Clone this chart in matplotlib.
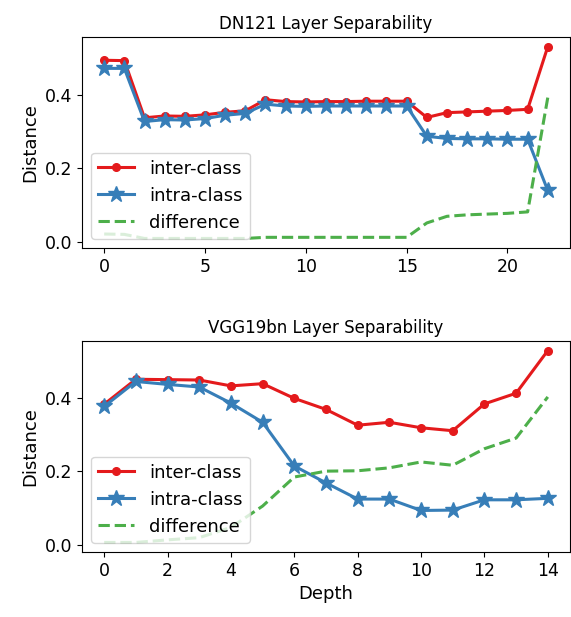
import matplotlib
matplotlib.use('Agg')
import matplotlib.pyplot as plt

# DN121 layer separability
dn_depth = list(range(23))
dn_inter = [0.493, 0.492, 0.337, 0.342, 0.341, 0.345, 0.352, 0.356, 0.386, 0.381, 0.380, 0.381,
            0.381, 0.382, 0.382, 0.382, 0.338, 0.351, 0.353, 0.355, 0.357, 0.360, 0.530]
dn_intra = [0.471, 0.471, 0.327, 0.332, 0.331, 0.335, 0.344, 0.349, 0.374, 0.369, 0.368, 0.369,
            0.369, 0.369, 0.369, 0.369, 0.287, 0.281, 0.280, 0.280, 0.279, 0.279, 0.140]
dn_diff = [0.022, 0.021, 0.010, 0.010, 0.010, 0.010, 0.010, 0.010, 0.013, 0.013, 0.013, 0.013,
           0.013, 0.013, 0.013, 0.013, 0.052, 0.070, 0.074, 0.076, 0.078, 0.082, 0.392]

# VGG19bn layer separability
vgg_depth = list(range(15))
vgg_inter = [0.382, 0.450, 0.449, 0.448, 0.432, 0.438, 0.398, 0.368, 0.325, 0.333, 0.318,
             0.310, 0.383, 0.412, 0.528]
vgg_intra = [0.376, 0.444, 0.436, 0.429, 0.385, 0.333, 0.214, 0.168, 0.124, 0.124, 0.093,
             0.094, 0.122, 0.122, 0.126]
vgg_diff = [0.006, 0.006, 0.013, 0.019, 0.047, 0.105, 0.184, 0.200, 0.201, 0.209, 0.225,
            0.216, 0.261, 0.290, 0.402]

red = '#e41a1c'
blue = '#377eb8'
green = '#4daf4a'

fig = plt.figure(figsize=(5.71, 6.17), dpi=100)
ax1 = fig.add_axes([0.1436, 0.598, 0.8546, 0.342])
ax2 = fig.add_axes([0.1436, 0.1053, 0.8546, 0.342])

panels = [(ax1, dn_depth, dn_inter, dn_intra, dn_diff, 'DN121 Layer Separability'),
          (ax2, vgg_depth, vgg_inter, vgg_intra, vgg_diff, 'VGG19bn Layer Separability')]

for ax, d, inter, intra, diff, title in panels:
    ax.plot(d, inter, color=red, marker='o', markersize=5.5, linewidth=2.2, label='inter-class')
    ax.plot(d, intra, color=blue, marker='*', markersize=12, linewidth=2.2, label='intra-class')
    ax.plot(d, diff, color=green, linestyle='--', linewidth=2.2, label='difference')
    ax.set_title(title, fontsize=12)
    ax.set_ylabel('Distance', fontsize=13)
    ax.set_yticks([0.0, 0.2, 0.4])
    ax.tick_params(labelsize=12.5)
    ax.legend(loc='lower left', fontsize=13)

ax1.set_xticks([0, 5, 10, 15, 20])
ax2.set_xticks([0, 2, 4, 6, 8, 10, 12, 14])
ax2.set_xlabel('Depth', fontsize=13)

plt.savefig('out.png', dpi=100)
